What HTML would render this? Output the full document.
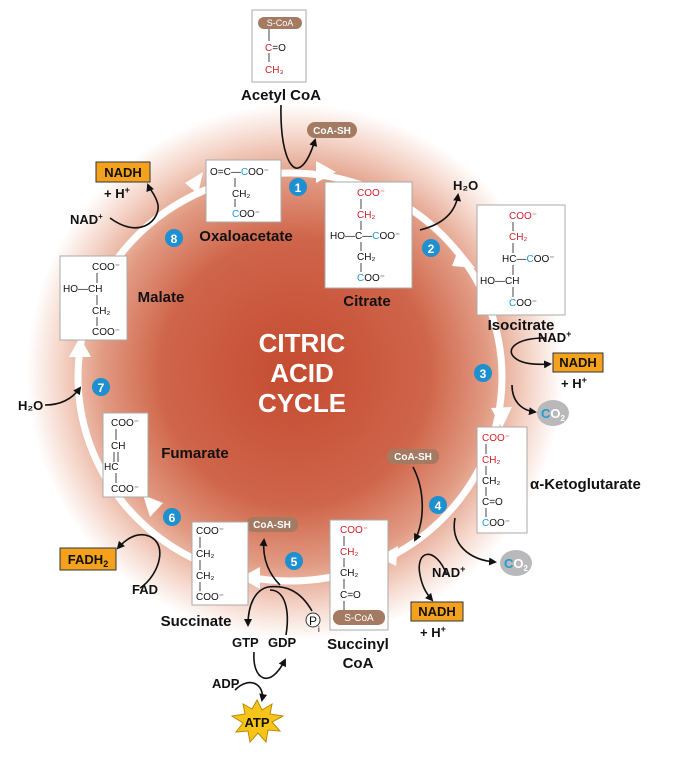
<!DOCTYPE html>
<html><head><meta charset="utf-8"><style>
html,body{margin:0;padding:0;background:#fff}
svg{display:block}
text{font-family:"Liberation Sans",Arial,sans-serif}
.m{font-size:10px;fill:#111}
.r{fill:#d0202e}
.b{fill:#1e9ad6}
.lb{font-size:15px;font-weight:bold;fill:#111}
.bx{fill:#fff;stroke:#aaa;stroke-width:1}
.ar{fill:none;stroke:#111;stroke-width:1.6}
.nad{font-size:13px;font-weight:bold;fill:#111}
.num{fill:#1e8fcf}
.nt{font-size:12px;font-weight:bold;fill:#fff;text-anchor:middle}
</style></head><body>
<svg width="673" height="769" viewBox="0 0 673 769" xmlns="http://www.w3.org/2000/svg">
<defs>
<radialGradient id="g" cx="295" cy="372" r="268" gradientUnits="userSpaceOnUse">
<stop offset="0" stop-color="#c44b30"/>
<stop offset="0.5" stop-color="#cf654a"/>
<stop offset="0.72" stop-color="#e19a82"/>
<stop offset="0.88" stop-color="#f5d6ca"/>
<stop offset="1" stop-color="#ffffff"/>
</radialGradient>
<marker id="ah" markerWidth="8" markerHeight="8" refX="6" refY="4" orient="auto" markerUnits="userSpaceOnUse"><path d="M0,0 L8,4 L0,8 Z" fill="#111"/></marker>
</defs>
<rect width="673" height="769" fill="#fff"/>
<circle cx="295" cy="372" r="268" fill="url(#g)"/>
<!-- ring -->
<ellipse cx="290" cy="377" rx="212" ry="204" fill="none" stroke="#fff" stroke-width="7"/>
<g fill="#fff">
<polygon points="316,161 336,172 316,183"/>
<polygon points="459,248 475,268 452,266"/>
<polygon points="491,408 502,428 512,407"/>
<polygon points="398,546 378,557 396,566"/>
<polygon points="260,567 240,578 260,589"/>
<polygon points="163,503 143,495 150,517"/>
<polygon points="69,357 80,337 91,357"/>
<polygon points="185,183 203,172 198,194"/>
</g>
<!-- CITRIC ACID CYCLE -->
<g font-size="26" font-weight="bold" fill="#fff" text-anchor="middle">
<text x="302" y="352">CITRIC</text><text x="302" y="382">ACID</text><text x="302" y="412">CYCLE</text>
</g>
<!-- Acetyl CoA -->
<rect class="bx" x="252" y="10" width="54" height="72"/>
<rect x="258" y="17" width="44" height="12" rx="6" fill="#a47b62"/>
<text x="280" y="26" font-size="9" fill="#fff" text-anchor="middle">S-CoA</text>
<line x1="269" y1="29" x2="269" y2="41" stroke="#444"/>
<text x="265" y="51" class="m"><tspan class="r">C</tspan>=O</text>
<line x1="269" y1="53" x2="269" y2="62" stroke="#444"/>
<text x="265" y="73" class="m"><tspan class="r">CH₃</tspan></text>
<text x="281" y="100" class="lb" text-anchor="middle">Acetyl CoA</text>
<path class="ar" d="M281,105 C280,150 290,170 298,168 C306,166 312,150 315,140" marker-end="url(#ah)"/>
<rect x="307" y="122" width="50" height="16" rx="8" fill="#a47b62"/>
<text x="332" y="134" font-size="10" font-weight="bold" fill="#fff" text-anchor="middle">CoA-SH</text>
<!-- Oxaloacetate -->
<rect class="bx" x="206" y="160" width="75" height="62"/>
<text x="210" y="175" class="m">O=C—<tspan class="b">C</tspan>OO⁻</text>
<line x1="235" y1="178" x2="235" y2="187" stroke="#444"/>
<text x="232" y="197" class="m">CH₂</text>
<line x1="235" y1="199" x2="235" y2="207" stroke="#444"/>
<text x="232" y="217" class="m"><tspan class="b">C</tspan>OO⁻</text>
<text x="246" y="241" class="lb" text-anchor="middle">Oxaloacetate</text>
<!-- Citrate -->
<rect class="bx" x="325" y="182" width="87" height="106"/>
<text x="357" y="196" class="m"><tspan class="r">COO⁻</tspan></text>
<text x="357" y="218" class="m"><tspan class="r">CH₂</tspan></text>
<text x="330" y="239" class="m">HO—C—<tspan class="b">C</tspan>OO⁻</text>
<text x="357" y="260" class="m">CH₂</text>
<text x="357" y="281" class="m"><tspan class="b">C</tspan>OO⁻</text>
<g stroke="#444"><line x1="361" y1="199" x2="361" y2="209"/><line x1="361" y1="221" x2="361" y2="230"/><line x1="361" y1="242" x2="361" y2="251"/><line x1="361" y1="263" x2="361" y2="272"/></g>
<text x="367" y="306" class="lb" text-anchor="middle">Citrate</text>
<path class="ar" d="M420,230 C440,225 455,215 458,195" marker-end="url(#ah)"/>
<text x="453" y="190" class="nad" font-size="12">H₂O</text>
<!-- Isocitrate -->
<rect class="bx" x="477" y="205" width="88" height="110"/>
<text x="509" y="219" class="m"><tspan class="r">COO⁻</tspan></text>
<text x="509" y="240" class="m"><tspan class="r">CH₂</tspan></text>
<text x="502" y="262" class="m">HC—<tspan class="b">C</tspan>OO⁻</text>
<text x="480" y="284" class="m">HO—CH</text>
<text x="509" y="306" class="m"><tspan class="b">C</tspan>OO⁻</text>
<g stroke="#444"><line x1="513" y1="222" x2="513" y2="231"/><line x1="513" y1="243" x2="513" y2="253"/><line x1="513" y1="265" x2="513" y2="275"/><line x1="513" y1="287" x2="513" y2="297"/></g>
<text x="521" y="330" class="lb" text-anchor="middle">Isocitrate</text>
<path class="ar" d="M545,338 C515,338 505,350 515,358 C522,364 535,365 550,364" marker-end="url(#ah)"/>
<text x="538" y="342" class="nad">NAD<tspan font-size="9" dy="-5">+</tspan></text>
<rect x="553" y="353" width="50" height="19" fill="#f4a11d" stroke="#333"/>
<text x="578" y="367" class="nad" text-anchor="middle">NADH</text>
<text x="561" y="388" class="nad">+ H<tspan font-size="9" dy="-5">+</tspan></text>
<path class="ar" d="M512,385 C512,400 520,410 535,412" marker-end="url(#ah)"/>
<ellipse cx="553" cy="413" rx="16" ry="13" fill="#b9b9bb"/>
<text x="541" y="418" font-size="13" font-weight="bold" fill="#fff"><tspan fill="#1e9ad6">C</tspan>O<tspan font-size="8" dy="3">2</tspan></text>
<!-- alpha-KG -->
<rect class="bx" x="477" y="427" width="50" height="106"/>
<text x="482" y="441" class="m"><tspan class="r">COO⁻</tspan></text>
<text x="482" y="463" class="m"><tspan class="r">CH₂</tspan></text>
<text x="482" y="484" class="m">CH₂</text>
<text x="482" y="505" class="m">C=O</text>
<text x="482" y="526" class="m"><tspan class="b">C</tspan>OO⁻</text>
<g stroke="#444"><line x1="486" y1="444" x2="486" y2="454"/><line x1="486" y1="466" x2="486" y2="475"/><line x1="486" y1="487" x2="486" y2="496"/><line x1="486" y1="508" x2="486" y2="517"/></g>
<text x="530" y="489" class="lb">α-Ketoglutarate</text>
<path class="ar" d="M455,518 C450,545 470,560 495,562" marker-end="url(#ah)"/>
<ellipse cx="516" cy="563" rx="16" ry="13" fill="#b9b9bb"/>
<text x="504" y="568" font-size="13" font-weight="bold" fill="#fff"><tspan fill="#1e9ad6">C</tspan>O<tspan font-size="8" dy="3">2</tspan></text>
<rect x="387" y="449" width="52" height="15" rx="7" fill="#a47b62"/>
<text x="413" y="460" font-size="10" font-weight="bold" fill="#fff" text-anchor="middle">CoA-SH</text>
<path class="ar" d="M413,467 C425,490 425,520 415,540" marker-end="url(#ah)"/>
<path class="ar" d="M447,575 C435,545 415,550 420,575 C422,585 425,592 432,600" marker-end="url(#ah)"/>
<text x="432" y="577" class="nad">NAD<tspan font-size="9" dy="-5">+</tspan></text>
<rect x="411" y="602" width="52" height="19" fill="#f4a11d" stroke="#333"/>
<text x="437" y="616" class="nad" text-anchor="middle">NADH</text>
<text x="420" y="637" class="nad">+ H<tspan font-size="9" dy="-5">+</tspan></text>
<!-- Succinyl CoA -->
<rect class="bx" x="330" y="520" width="58" height="110"/>
<text x="340" y="533" class="m"><tspan class="r">COO⁻</tspan></text>
<text x="340" y="555" class="m"><tspan class="r">CH₂</tspan></text>
<text x="340" y="576" class="m">CH₂</text>
<text x="340" y="598" class="m">C=O</text>
<g stroke="#444"><line x1="344" y1="536" x2="344" y2="546"/><line x1="344" y1="558" x2="344" y2="567"/><line x1="344" y1="579" x2="344" y2="589"/><line x1="344" y1="601" x2="344" y2="610"/></g>
<rect x="333" y="610" width="52" height="15" rx="7" fill="#a47b62"/>
<text x="359" y="621" font-size="10" fill="#fff" text-anchor="middle">S-CoA</text>
<text x="358" y="649" class="lb" text-anchor="middle">Succinyl</text>
<text x="358" y="668" class="lb" text-anchor="middle">CoA</text>
<circle cx="313" cy="620" r="7" fill="#fff" stroke="#333"/>
<text x="309" y="625" font-size="12" fill="#111">P</text><text x="318" y="632" font-size="8">i</text>
<!-- step 5 arrows -->
<path class="ar" d="M312,611 C300,590 285,585 268,587 C255,590 248,605 248,625" marker-end="url(#ah)"/>
<path class="ar" d="M280,585 C270,575 262,560 264,540" marker-end="url(#ah)"/>
<path class="ar" d="M254,652 C252,680 270,690 285,660" marker-end="url(#ah)"/>
<path class="ar" d="M286,635 C290,610 285,590 270,590"/>
<path class="ar" d="M235,690 C250,675 265,685 262,700" marker-end="url(#ah)"/>
<rect x="246" y="517" width="52" height="15" rx="7" fill="#a47b62"/>
<text x="272" y="528" font-size="10" font-weight="bold" fill="#fff" text-anchor="middle">CoA-SH</text>
<text x="232" y="647" class="nad" font-size="12">GTP</text>
<text x="268" y="647" class="nad" font-size="12">GDP</text>
<text x="212" y="688" class="nad" font-size="12">ADP</text>
<polygon fill="#f7c41a" stroke="#b98a00" points="257,700 262,710 272,704 270,714 283,716 272,722 280,731 268,730 266,742 258,733 250,742 248,731 236,732 243,723 232,716 245,714 243,704 252,709" />
<text x="257" y="727" font-size="13" font-weight="bold" fill="#111" text-anchor="middle">ATP</text>
<!-- Succinate -->
<rect class="bx" x="192" y="522" width="56" height="83"/>
<text x="196" y="534" class="m">COO⁻</text>
<text x="196" y="557" class="m">CH₂</text>
<text x="196" y="579" class="m">CH₂</text>
<text x="196" y="600" class="m">COO⁻</text>
<g stroke="#444"><line x1="200" y1="537" x2="200" y2="548"/><line x1="200" y1="560" x2="200" y2="570"/><line x1="200" y1="582" x2="200" y2="591"/></g>
<text x="196" y="626" class="lb" text-anchor="middle">Succinate</text>
<path class="ar" d="M140,588 C160,575 170,540 145,535 C135,533 125,540 118,548" marker-end="url(#ah)"/>
<text x="132" y="594" class="nad" font-size="12">FAD</text>
<rect x="60" y="548" width="56" height="22" fill="#f4a11d" stroke="#333"/>
<text x="88" y="564" class="nad" text-anchor="middle">FADH<tspan font-size="9" dy="3">2</tspan></text>
<!-- Fumarate -->
<rect class="bx" x="103" y="413" width="45" height="84"/>
<text x="111" y="426" class="m">COO⁻</text>
<text x="111" y="449" class="m">CH</text>
<text x="104" y="470" class="m">HC</text>
<text x="111" y="492" class="m">COO⁻</text>
<g stroke="#444"><line x1="116" y1="429" x2="116" y2="440"/><line x1="114" y1="452" x2="114" y2="462"/><line x1="118" y1="452" x2="118" y2="462"/><line x1="116" y1="473" x2="116" y2="483"/></g>
<text x="195" y="458" class="lb" text-anchor="middle">Fumarate</text>
<path class="ar" d="M45,405 C65,405 75,395 80,388" marker-end="url(#ah)"/>
<text x="18" y="410" class="nad" font-size="12">H₂O</text>
<!-- Malate -->
<rect class="bx" x="60" y="256" width="67" height="84"/>
<text x="92" y="270" class="m">COO⁻</text>
<text x="63" y="292" class="m">HO—CH</text>
<text x="92" y="314" class="m">CH₂</text>
<text x="92" y="335" class="m">COO⁻</text>
<g stroke="#444"><line x1="97" y1="273" x2="97" y2="283"/><line x1="97" y1="295" x2="97" y2="305"/><line x1="97" y1="317" x2="97" y2="326"/></g>
<text x="161" y="302" class="lb" text-anchor="middle">Malate</text>
<path class="ar" d="M110,218 C140,240 160,220 158,205 C156,195 150,190 148,185" marker-end="url(#ah)"/>
<text x="70" y="224" class="nad" font-size="12">NAD<tspan font-size="8" dy="-5">+</tspan></text>
<rect x="96" y="162" width="54" height="20" fill="#f4a11d" stroke="#333"/>
<text x="123" y="177" class="nad" text-anchor="middle">NADH</text>
<text x="104" y="198" class="nad">+ H<tspan font-size="9" dy="-5">+</tspan></text>
<!-- numbers -->
<g>
<circle class="num" cx="298" cy="187" r="9"/><text class="nt" x="298" y="192">1</text>
<circle class="num" cx="431" cy="248" r="9"/><text class="nt" x="431" y="253">2</text>
<circle class="num" cx="483" cy="373" r="9"/><text class="nt" x="483" y="378">3</text>
<circle class="num" cx="438" cy="505" r="9"/><text class="nt" x="438" y="510">4</text>
<circle class="num" cx="294" cy="561" r="9"/><text class="nt" x="294" y="566">5</text>
<circle class="num" cx="172" cy="517" r="9"/><text class="nt" x="172" y="522">6</text>
<circle class="num" cx="101" cy="387" r="9"/><text class="nt" x="101" y="392">7</text>
<circle class="num" cx="174" cy="238" r="9"/><text class="nt" x="174" y="243">8</text>
</g>
</svg>
</body></html>
